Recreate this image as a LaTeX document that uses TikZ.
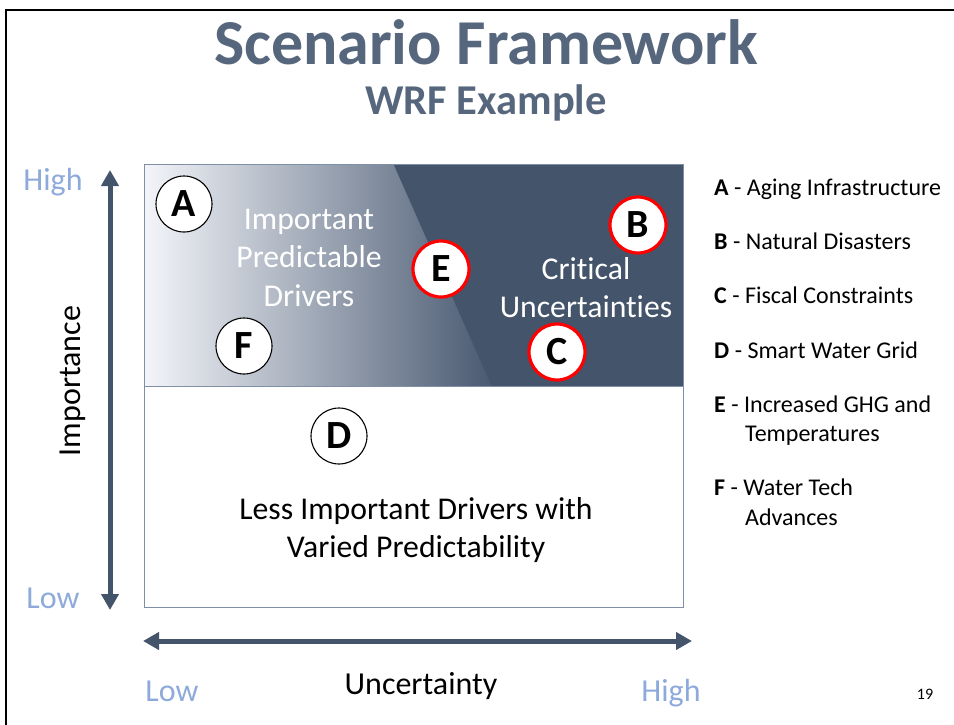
\documentclass[tikz,border=0pt]{standalone}
\usepackage{fontspec}
\setmainfont{Carlito}[Ligatures=NoCommon]
\usetikzlibrary{arrows.meta}
\definecolor{titlec}{HTML}{56677D}
\definecolor{axisc}{HTML}{44546A}
\definecolor{lblue}{HTML}{8EAADB}
\definecolor{darkq}{HTML}{44546A}
\definecolor{boxline}{HTML}{7F8FA6}
\definecolor{redc}{HTML}{FF0000}
\definecolor{gradL}{HTML}{F3F5F9}
\definecolor{gradM}{HTML}{8796AD}
\definecolor{gradR}{HTML}{4A5A72}
\begin{document}
\begin{tikzpicture}[x=1pt,y=-1pt,
  lbl/.style={inner sep=0pt,anchor=base,font=\fontsize{32}{36}\selectfont},
  boxtxt/.style={inner sep=0pt,anchor=base,font=\fontsize{31.7}{36}\selectfont},
  leg/.style={inner sep=0pt,anchor=base west,font=\fontsize{24}{28}\selectfont},
  bubble/.style={circle,minimum size=56pt,inner sep=0pt,fill=white,draw=black,line width=1.1pt,font=\bfseries\fontsize{40}{42}\selectfont},
  redbubble/.style={bubble,draw=redc,line width=3.2pt},
  bigarrow/.style={line width=5pt,draw=axisc,{Triangle[width=17pt,length=16pt]}-{Triangle[width=17pt,length=16pt]}}]
\useasboundingbox (0,0) rectangle (954,724);
% frame
\draw[line width=2.6pt,black] (6,730) -- (6,10) -- (960,10);
% titles
\node[inner sep=0pt,anchor=base,text=titlec,font=\bfseries\fontsize{64}{70}\selectfont] (title) at (486,64) {Scenario Framework};
\node[inner sep=0pt,anchor=base,text=titlec,font=\bfseries\fontsize{42.5}{46}\selectfont] (subtitle) at (486,114) {WRF Example};
% quadrant box
\coordinate (bx1) at (144,164);
\coordinate (bx2) at (683,607);
\shade[left color=gradL, middle color=gradM, right color=gradR] (144,164) -- (394,164) -- (492,386) -- (144,386) -- cycle;
\fill[darkq] (393.5,164) -- (683,164) -- (683,386) -- (491.5,386) -- cycle;
\draw[boxline,line width=1pt] (bx1) rectangle (bx2);
\draw[boxline,line width=1pt] (144,386) -- (683,386);
% box texts
\node[boxtxt,text=white] (ipd1) at (309,229) {Important};
\node[boxtxt,text=white] (ipd2) at (309,267) {Predictable};
\node[boxtxt,text=white] (ipd3) at (309,306) {Drivers};
\node[boxtxt,text=white] (cu1) at (586,279) {Critical};
\node[boxtxt,text=white] (cu2) at (586,317) {Uncertainties};
\node[boxtxt,text=black] (lid1) at (416,519) {Less Important Drivers with};
\node[boxtxt,text=black] (lid2) at (416,557) {Varied Predictability};
% bubbles
\node[bubble] (A) at (184,204) {A};
\node[redbubble] (B) at (638,225) {B};
\node[redbubble] (E) at (441,269) {E};
\node[redbubble] (C) at (557,352) {C};
\node[bubble] (F) at (244,346) {F};
\node[bubble] (D) at (339,436) {D};
% axes
\coordinate (vtop) at (110,170);
\coordinate (vbot) at (110,610);
\draw[bigarrow] (vtop) -- (vbot);
\coordinate (hl) at (143,641);
\coordinate (hr) at (692,641);
\draw[bigarrow] (hl) -- (hr);
\node[lbl,text=lblue] (vhigh) at (53,190) {High};
\node[lbl,text=lblue] (vlow) at (53,608) {Low};
\node[lbl,text=black,rotate=90,anchor=center] (imp) at (73,381) {Importance};
\node[lbl,text=lblue] (hlow) at (172,701) {Low};
\node[lbl,text=lblue] (hhigh) at (671,701) {High};
\node[lbl,text=black] (unc) at (421,694) {Uncertainty};
\node[inner sep=0pt,anchor=base,font=\fontsize{16}{18}\selectfont] (pg) at (925,699) {19};
% legend
\node[leg] (lA) at (714,195.5) {\textbf{A} - Aging Infrastructure};
\node[leg] (lB) at (714,249.5) {\textbf{B} - Natural Disasters};
\node[leg] (lC) at (714,303.5) {\textbf{C} - Fiscal Constraints};
\node[leg] (lD) at (714,358.5) {\textbf{D} - Smart Water Grid};
\node[leg] (lE) at (714,412.5) {\textbf{E} - Increased GHG and};
\node[leg] (lE2) at (745,441.5) {Temperatures};
\node[leg] (lF) at (714,495.5) {\textbf{F} - Water Tech};
\node[leg] (lF2) at (745,525.5) {Advances};
\end{tikzpicture}
\end{document}
